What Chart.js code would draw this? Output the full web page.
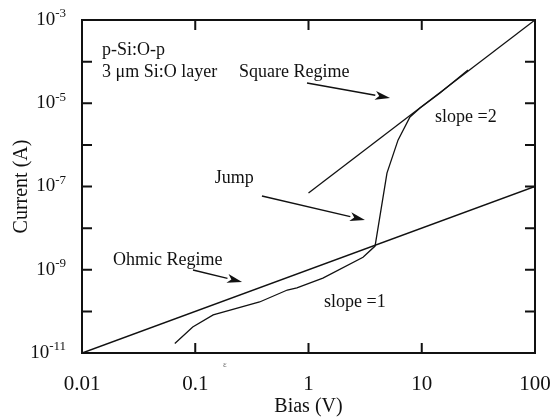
<!DOCTYPE html>
<html>
<head>
<meta charset="utf-8">
<script src="https://cdn.jsdelivr.net/npm/chart.js@4.4.0/dist/chart.umd.min.js"></script>
<style>
  html, body { margin: 0; padding: 0; background: #fff; }
</style>
</head>
<body>
<canvas id="ivChart" width="557" height="417"></canvas>
<script>
// axis ticks
const biasTicks = [0.01, 0.1, 1, 10, 100];
const decadeExponents = [-3, -4, -5, -6, -7, -8, -9, -10, -11];
const labelledExponents = [-3, -5, -7, -9, -11];

// slope = 1 reference line
const ohmicBias = [0.01, 100];
const ohmicCurrent = [1e-11, 1e-7];

// slope = 2 reference line
const squareBias = [1.0, 100];
const squareCurrent = [7e-8, 1e-3];

// measured I-V curve
const measuredBias = [0.066, 0.095, 0.144, 0.37, 0.65, 0.79, 1.34, 3.03, 3.87, 4.93, 6.17, 7.87, 9.66, 14.5, 25.6];
const measuredCurrent = [1.7e-11, 4.2e-11, 8.2e-11, 1.68e-10, 3.26e-10, 3.65e-10, 6.3e-10, 2.0e-9, 3.7e-9, 2.1e-7, 1.3e-6, 4.7e-6, 7.7e-6, 1.76e-5, 6.3e-5];

// annotations, placed in data coordinates (left edge, vertical middle)
const noteTexts = ["p-Si:O-p", "3 \u03bcm Si:O layer", "Square Regime", "slope =2", "Jump", "Ohmic Regime", "slope =1"];
const noteBias = [0.01502, 0.01502, 0.243, 13.1, 0.149, 0.01878, 1.37];
const noteCurrent = [1.9e-4, 5.63e-5, 5.63e-5, 4.67e-6, 1.6e-7, 1.71e-9, 1.68e-10];

// arrows: tail -> head
const arrowTailBias = [0.97, 0.388, 0.0955];
const arrowTailCurrent = [3.06e-5, 5.91e-8, 9.86e-10];
const arrowHeadBias = [5.25, 3.15, 0.259];
const arrowHeadCurrent = [1.34e-5, 1.57e-8, 5.08e-10];

const FONT = "'Liberation Serif', 'Times New Roman', serif";
const INK = "#111";

function toPoints(xs, ys) {
  return xs.map((x, i) => ({ x: x, y: ys[i] }));
}

const paperPlugin = {
  id: "paper",
  afterDraw(chart) {
    const ctx = chart.ctx;
    const xs = chart.scales.x;
    const ys = chart.scales.y;
    const a = chart.chartArea;
    ctx.save();

    // frame
    ctx.strokeStyle = INK;
    ctx.lineWidth = 2;
    ctx.strokeRect(a.left, a.top, a.right - a.left, a.bottom - a.top);

    // inward ticks
    ctx.lineWidth = 2;
    ctx.beginPath();
    biasTicks.forEach(v => {
      const px = xs.getPixelForValue(v);
      ctx.moveTo(px, a.bottom); ctx.lineTo(px, a.bottom - 10);
      ctx.moveTo(px, a.top); ctx.lineTo(px, a.top + 10);
    });
    decadeExponents.forEach(e => {
      const py = ys.getPixelForValue(Math.pow(10, e));
      ctx.moveTo(a.left, py); ctx.lineTo(a.left + 10, py);
      ctx.moveTo(a.right, py); ctx.lineTo(a.right - 10, py);
    });
    ctx.stroke();

    // y tick labels with superscript
    ctx.fillStyle = INK;
    ctx.textBaseline = "middle";
    labelledExponents.forEach(e => {
      const py = ys.getPixelForValue(Math.pow(10, e));
      const expText = String(e);
      ctx.font = "13px " + FONT;
      const expW = ctx.measureText(expText).width;
      const right = a.left - 16;
      ctx.textAlign = "left";
      ctx.fillText(expText, right - expW, py - 6);
      ctx.font = "19px " + FONT;
      ctx.textAlign = "right";
      ctx.fillText("10", right - expW, py);
    });

    // annotation texts
    ctx.font = "18px " + FONT;
    ctx.textAlign = "left";
    noteTexts.forEach((t, i) => {
      ctx.fillText(t, xs.getPixelForValue(noteBias[i]), ys.getPixelForValue(noteCurrent[i]));
    });

    // arrows
    ctx.lineWidth = 1.4;
    arrowTailBias.forEach((b, i) => {
      const x0 = xs.getPixelForValue(b);
      const y0 = ys.getPixelForValue(arrowTailCurrent[i]);
      const x1 = xs.getPixelForValue(arrowHeadBias[i]);
      const y1 = ys.getPixelForValue(arrowHeadCurrent[i]);
      const ang = Math.atan2(y1 - y0, x1 - x0);
      const len = 15, half = 4.5;
      const bx = x1 - len * Math.cos(ang), by = y1 - len * Math.sin(ang);
      ctx.beginPath();
      ctx.moveTo(x0, y0);
      ctx.lineTo(bx, by);
      ctx.stroke();
      ctx.beginPath();
      ctx.moveTo(x1, y1);
      ctx.lineTo(bx + half * Math.sin(ang), by - half * Math.cos(ang));
      ctx.lineTo(bx + 4 * Math.cos(ang), by + 4 * Math.sin(ang));
      ctx.lineTo(bx - half * Math.sin(ang), by + half * Math.cos(ang));
      ctx.closePath();
      ctx.fill();
    });

    // small scan mark below the axis
    ctx.font = "9px " + FONT;
    ctx.fillStyle = "#777";
    ctx.textAlign = "center";
    ctx.fillText("\u03b5", xs.getPixelForValue(0.183), ys.getPixelForValue(5.15e-12));

    ctx.restore();
  }
};

const ivCTX = document.getElementById("ivChart").getContext("2d");

const configIV = {
  type: "scatter",
  data: {
    datasets: [
      {
        label: "Ohmic",
        data: toPoints(ohmicBias, ohmicCurrent),
        showLine: true,
        borderColor: INK,
        borderWidth: 1.6,
        pointRadius: 0,
      },
      {
        label: "Square",
        data: toPoints(squareBias, squareCurrent),
        showLine: true,
        borderColor: INK,
        borderWidth: 1.3,
        pointRadius: 0,
      },
      {
        label: "Measured",
        data: toPoints(measuredBias, measuredCurrent),
        showLine: true,
        borderColor: INK,
        borderWidth: 1.3,
        pointRadius: 0,
        tension: 0,
      },
    ],
  },
  options: {
    responsive: false,
    animation: false,
    layout: { padding: { left: 0, right: 22, top: 20, bottom: 0 } },
    plugins: {
      legend: { display: false },
      tooltip: { enabled: false },
    },
    scales: {
      x: {
        type: "logarithmic",
        min: 0.01,
        max: 100,
        afterBuildTicks: s => { s.ticks = biasTicks.map(v => ({ value: v })); },
        afterFit: s => {
          s.height = 64;
          s.paddingLeft = 0;
          s.paddingRight = 0;
        },
        grid: { display: false, drawTicks: false },
        border: { display: false },
        ticks: {
          autoSkip: false,
          maxRotation: 0,
          padding: 19,
          color: INK,
          font: { family: FONT, size: 21 },
          callback: v => String(v),
        },
        title: {
          display: true,
          text: "Bias (V)",
          color: INK,
          font: { family: FONT, size: 20, lineHeight: 1 },
          padding: { top: 0, bottom: 0 },
        },
      },
      y: {
        type: "logarithmic",
        min: 1e-11,
        max: 1e-3,
        afterBuildTicks: s => { s.ticks = decadeExponents.map(e => ({ value: Math.pow(10, e) })); },
        afterFit: s => {
          s.width = 82;
          s.paddingTop = 0;
          s.paddingBottom = 0;
        },
        grid: { display: false, drawTicks: false },
        border: { display: false },
        ticks: { display: false },
        title: {
          display: true,
          text: "Current (A)",
          color: INK,
          font: { family: FONT, size: 20, lineHeight: 1 },
          padding: { top: 12, bottom: 0 },
        },
      },
    },
  },
  plugins: [paperPlugin],
};

const ivChart = new Chart(ivCTX, configIV);
</script>
</body>
</html>
